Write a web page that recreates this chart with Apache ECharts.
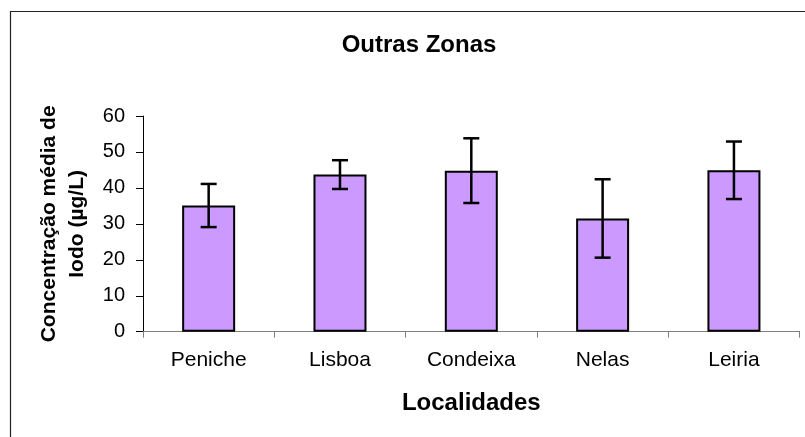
<!DOCTYPE html>
<html>
<head>
<meta charset="utf-8">
<script src="https://cdn.jsdelivr.net/npm/echarts@6/dist/echarts.min.js"></script>
<style>
html,body{margin:0;padding:0;background:#fff;}
#chart{width:805px;height:437px;}
</style>
</head>
<body>
<div id="chart"></div>
<script>
const categories = ['Peniche', 'Lisboa', 'Condeixa', 'Nelas', 'Leiria'];
const means = [35.1, 43.7, 44.8, 31.5, 44.9];
const errors = [6.0, 4.0, 9.0, 10.9, 8.0];
const yTicks = [0, 10, 20, 30, 40, 50, 60];

const chart = echarts.init(document.getElementById('chart'), null, {renderer: 'canvas'});
const font = '"Liberation Sans", Arial, sans-serif';

const errData = categories.map((c, i) => [i, means[i] - errors[i], means[i] + errors[i]]);

chart.setOption({
  animation: false,
  backgroundColor: '#fff',
  title: {
    text: 'Outras Zonas',
    left: 414, top: 28,
    textAlign: 'center',
    textStyle: {fontFamily: font, fontSize: 24, fontWeight: 'bold', color: '#000'}
  },
  graphic: [{
    type: 'rect', silent: true, z: -1,
    shape: {x: 10.5, y: 11.5, width: 820, height: 450},
    style: {fill: 'none', stroke: '#222', lineWidth: 1.2}
  }],
  grid: {left: 143, right: 5.4, top: 116, bottom: 105.3},
  xAxis: {
    type: 'category',
    data: categories,
    name: 'Localidades',
    nameLocation: 'middle',
    nameGap: 60,
    nameTextStyle: {fontFamily: font, fontSize: 24, fontWeight: 'bold', color: '#000'},
    axisLine: {lineStyle: {color: '#808080', width: 1}},
    axisTick: {show: true, length: 6, lineStyle: {color: '#808080'}, interval: 0},
    axisLabel: {fontFamily: font, fontSize: 21, color: '#000', margin: 18, interval: 0},
    splitLine: {show: false}
  },
  yAxis: {
    type: 'value',
    min: 0, max: 60, interval: 10,
    name: 'Concentração média de\nIodo (µg/L)',
    nameLocation: 'middle',
    nameGap: 52,
    nameTextStyle: {fontFamily: font, fontSize: 21, fontWeight: 'bold', color: '#000', lineHeight: 28},
    axisLine: {show: true, lineStyle: {color: '#000', width: 1}},
    axisTick: {show: true, length: 7, lineStyle: {color: '#000'}},
    axisLabel: {fontFamily: font, fontSize: 20, color: '#000', margin: 18,
      formatter: v => yTicks.includes(v) ? String(v) : ''},
    splitLine: {show: false}
  },
  series: [{
    type: 'bar',
    data: means,
    barWidth: 53,
    itemStyle: {color: '#CC99FF', borderColor: '#000', borderWidth: 2}
  }, {
    type: 'custom',
    data: errData,
    z: 10,
    renderItem: function (params, api) {
      const x = api.value(0);
      const lo = api.coord([x, api.value(1)]);
      const hi = api.coord([x, api.value(2)]);
      const hw = 8;
      const st = {stroke: '#000', lineWidth: 2.5};
      return {
        type: 'group',
        children: [
          {type: 'line', shape: {x1: lo[0], y1: lo[1], x2: hi[0], y2: hi[1]}, style: st},
          {type: 'line', shape: {x1: lo[0] - hw, y1: lo[1], x2: lo[0] + hw, y2: lo[1]}, style: st},
          {type: 'line', shape: {x1: hi[0] - hw, y1: hi[1], x2: hi[0] + hw, y2: hi[1]}, style: st}
        ]
      };
    }
  }]
});
</script>
</body>
</html>
